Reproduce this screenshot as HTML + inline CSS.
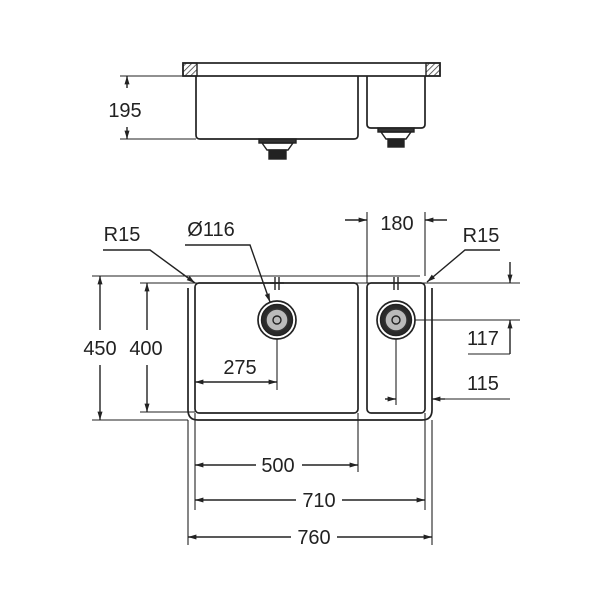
<!DOCTYPE html>
<html><head><meta charset="utf-8"><style>body{margin:0;background:#fff}svg{display:block}</style></head><body>
<svg width="600" height="600" viewBox="0 0 600 600" xmlns="http://www.w3.org/2000/svg" font-family="Liberation Sans, sans-serif" font-size="20" fill="#222">
<defs>
<marker id="a" viewBox="0 0 10 10" refX="10" refY="5" markerWidth="8" markerHeight="6" orient="auto-start-reverse"><path d="M0,2 L10,5 L0,8z" fill="#222"/></marker>
<pattern id="h" width="4" height="4" patternUnits="userSpaceOnUse" patternTransform="rotate(45)"><line x1="0" y1="0" x2="0" y2="4" stroke="#333" stroke-width="1.5"/></pattern>
</defs>
<g stroke="#222" fill="none" stroke-width="1.4">
<rect x="183" y="63" width="257" height="13" stroke-width="1.7"/>
<rect x="183" y="63" width="14" height="13" fill="url(#h)"/>
<rect x="426" y="63" width="14" height="13" fill="url(#h)"/>
<path d="M196 76 V135 Q196 139 200 139 H354 Q358 139 358 135 V76" stroke-width="1.7"/>
<path d="M367 76 V124 Q367 128 371 128 H421 Q425 128 425 124 V76" stroke-width="1.7"/>
<rect x="259" y="139" width="37" height="4" fill="#333"/>
<path d="M262 143 H293 L288 150 H267 Z"/>
<rect x="269" y="150" width="17" height="9" fill="#222"/>
<rect x="378" y="128" width="36" height="4" fill="#333"/>
<path d="M381 132 H411 L406 139 H386 Z"/>
<rect x="388" y="139" width="16" height="8" fill="#222"/>
<line x1="120" y1="76" x2="196" y2="76" stroke-width="1.1"/>
<line x1="120" y1="139" x2="196" y2="139" stroke-width="1.1"/>
<line x1="127" y1="88" x2="127" y2="76" marker-end="url(#a)"/>
<line x1="127" y1="127" x2="127" y2="139" marker-end="url(#a)"/>
<path d="M188 288 V410 Q188 420 198 420 H422 Q432 420 432 410 V288" stroke-width="1.7"/>
<line x1="92" y1="276" x2="420" y2="276" stroke-width="1.1"/>
<line x1="140" y1="283" x2="520" y2="283" stroke-width="1.1"/>
<rect x="195" y="283" width="163" height="130" rx="4" stroke-width="1.7"/>
<rect x="367" y="283" width="58" height="130" rx="4" stroke-width="1.7"/>
<line x1="92" y1="420" x2="188" y2="420" stroke-width="1.1"/>
<line x1="140" y1="412" x2="195" y2="412" stroke-width="1.1"/>
<line x1="275" y1="277" x2="275" y2="290"/><line x1="279" y1="277" x2="279" y2="290"/><line x1="270" y1="283" x2="284" y2="283"/>
<line x1="394" y1="277" x2="394" y2="290"/><line x1="398" y1="277" x2="398" y2="290"/>
<circle cx="277" cy="320" r="19" stroke-width="1.7"/><circle cx="277" cy="320" r="15.5" fill="#2a2a2a"/><circle cx="277" cy="320" r="11" fill="#bbb" stroke="#333"/><circle cx="277" cy="320" r="4"/>
<circle cx="396" cy="320" r="19" stroke-width="1.7"/><circle cx="396" cy="320" r="15.5" fill="#2a2a2a"/><circle cx="396" cy="320" r="11" fill="#bbb" stroke="#333"/><circle cx="396" cy="320" r="4"/>
<line x1="188" y1="420" x2="188" y2="545" stroke-width="1.1"/>
<line x1="195" y1="413" x2="195" y2="510" stroke-width="1.1"/>
<line x1="358" y1="413" x2="358" y2="472" stroke-width="1.1"/>
<line x1="425" y1="413" x2="425" y2="510" stroke-width="1.1"/>
<line x1="432" y1="420" x2="432" y2="545" stroke-width="1.1"/>
<line x1="367" y1="212" x2="367" y2="283" stroke-width="1.1"/>
<line x1="425" y1="212" x2="425" y2="276" stroke-width="1.1"/>
<line x1="277" y1="339" x2="277" y2="390" stroke-width="1.1"/>
<line x1="396" y1="339" x2="396" y2="405" stroke-width="1.1"/>
<line x1="415" y1="320" x2="520" y2="320" stroke-width="1.1"/>
<line x1="468" y1="354" x2="510" y2="354" stroke-width="1.1"/>
<line x1="435" y1="399" x2="510" y2="399" stroke-width="1.1"/>
<line x1="100" y1="330" x2="100" y2="276" marker-end="url(#a)"/>
<line x1="100" y1="365" x2="100" y2="420" marker-end="url(#a)"/>
<line x1="147" y1="330" x2="147" y2="283" marker-end="url(#a)"/>
<line x1="147" y1="365" x2="147" y2="412" marker-end="url(#a)"/>
<line x1="195" y1="382" x2="277" y2="382" marker-start="url(#a)" marker-end="url(#a)"/>
<line x1="385" y1="399" x2="396" y2="399" marker-end="url(#a)"/>
<line x1="445" y1="399" x2="432" y2="399" marker-end="url(#a)"/>
<line x1="510" y1="354" x2="510" y2="320" marker-end="url(#a)"/>
<line x1="510" y1="262" x2="510" y2="283" marker-end="url(#a)"/>
<line x1="345" y1="220" x2="367" y2="220" marker-end="url(#a)"/>
<line x1="447" y1="220" x2="425" y2="220" marker-end="url(#a)"/>
<line x1="195" y1="465" x2="256" y2="465" marker-start="url(#a)"/><line x1="302" y1="465" x2="358" y2="465" marker-end="url(#a)"/>
<line x1="195" y1="500" x2="296" y2="500" marker-start="url(#a)"/><line x1="342" y1="500" x2="425" y2="500" marker-end="url(#a)"/>
<line x1="188" y1="537" x2="291" y2="537" marker-start="url(#a)"/><line x1="337" y1="537" x2="432" y2="537" marker-end="url(#a)"/>
<polyline points="103,250 150,250 195,283" marker-end="url(#a)"/>
<polyline points="185,245 250,245 270,302" marker-end="url(#a)"/>
<polyline points="500,250 465,250 427,282" marker-end="url(#a)"/>
</g>
<g stroke="none">
<text x="125" y="117" text-anchor="middle">195</text>
<text x="122" y="241" text-anchor="middle">R15</text>
<text x="211" y="236" text-anchor="middle">Ø116</text>
<text x="397" y="230" text-anchor="middle">180</text>
<text x="481" y="242" text-anchor="middle">R15</text>
<text x="100" y="355" text-anchor="middle">450</text>
<text x="146" y="355" text-anchor="middle">400</text>
<text x="240" y="374" text-anchor="middle">275</text>
<text x="483" y="345" text-anchor="middle">117</text>
<text x="483" y="390" text-anchor="middle">115</text>
<text x="278" y="472" text-anchor="middle">500</text>
<text x="319" y="507" text-anchor="middle">710</text>
<text x="314" y="544" text-anchor="middle">760</text>
</g>
</svg>
</body></html>
